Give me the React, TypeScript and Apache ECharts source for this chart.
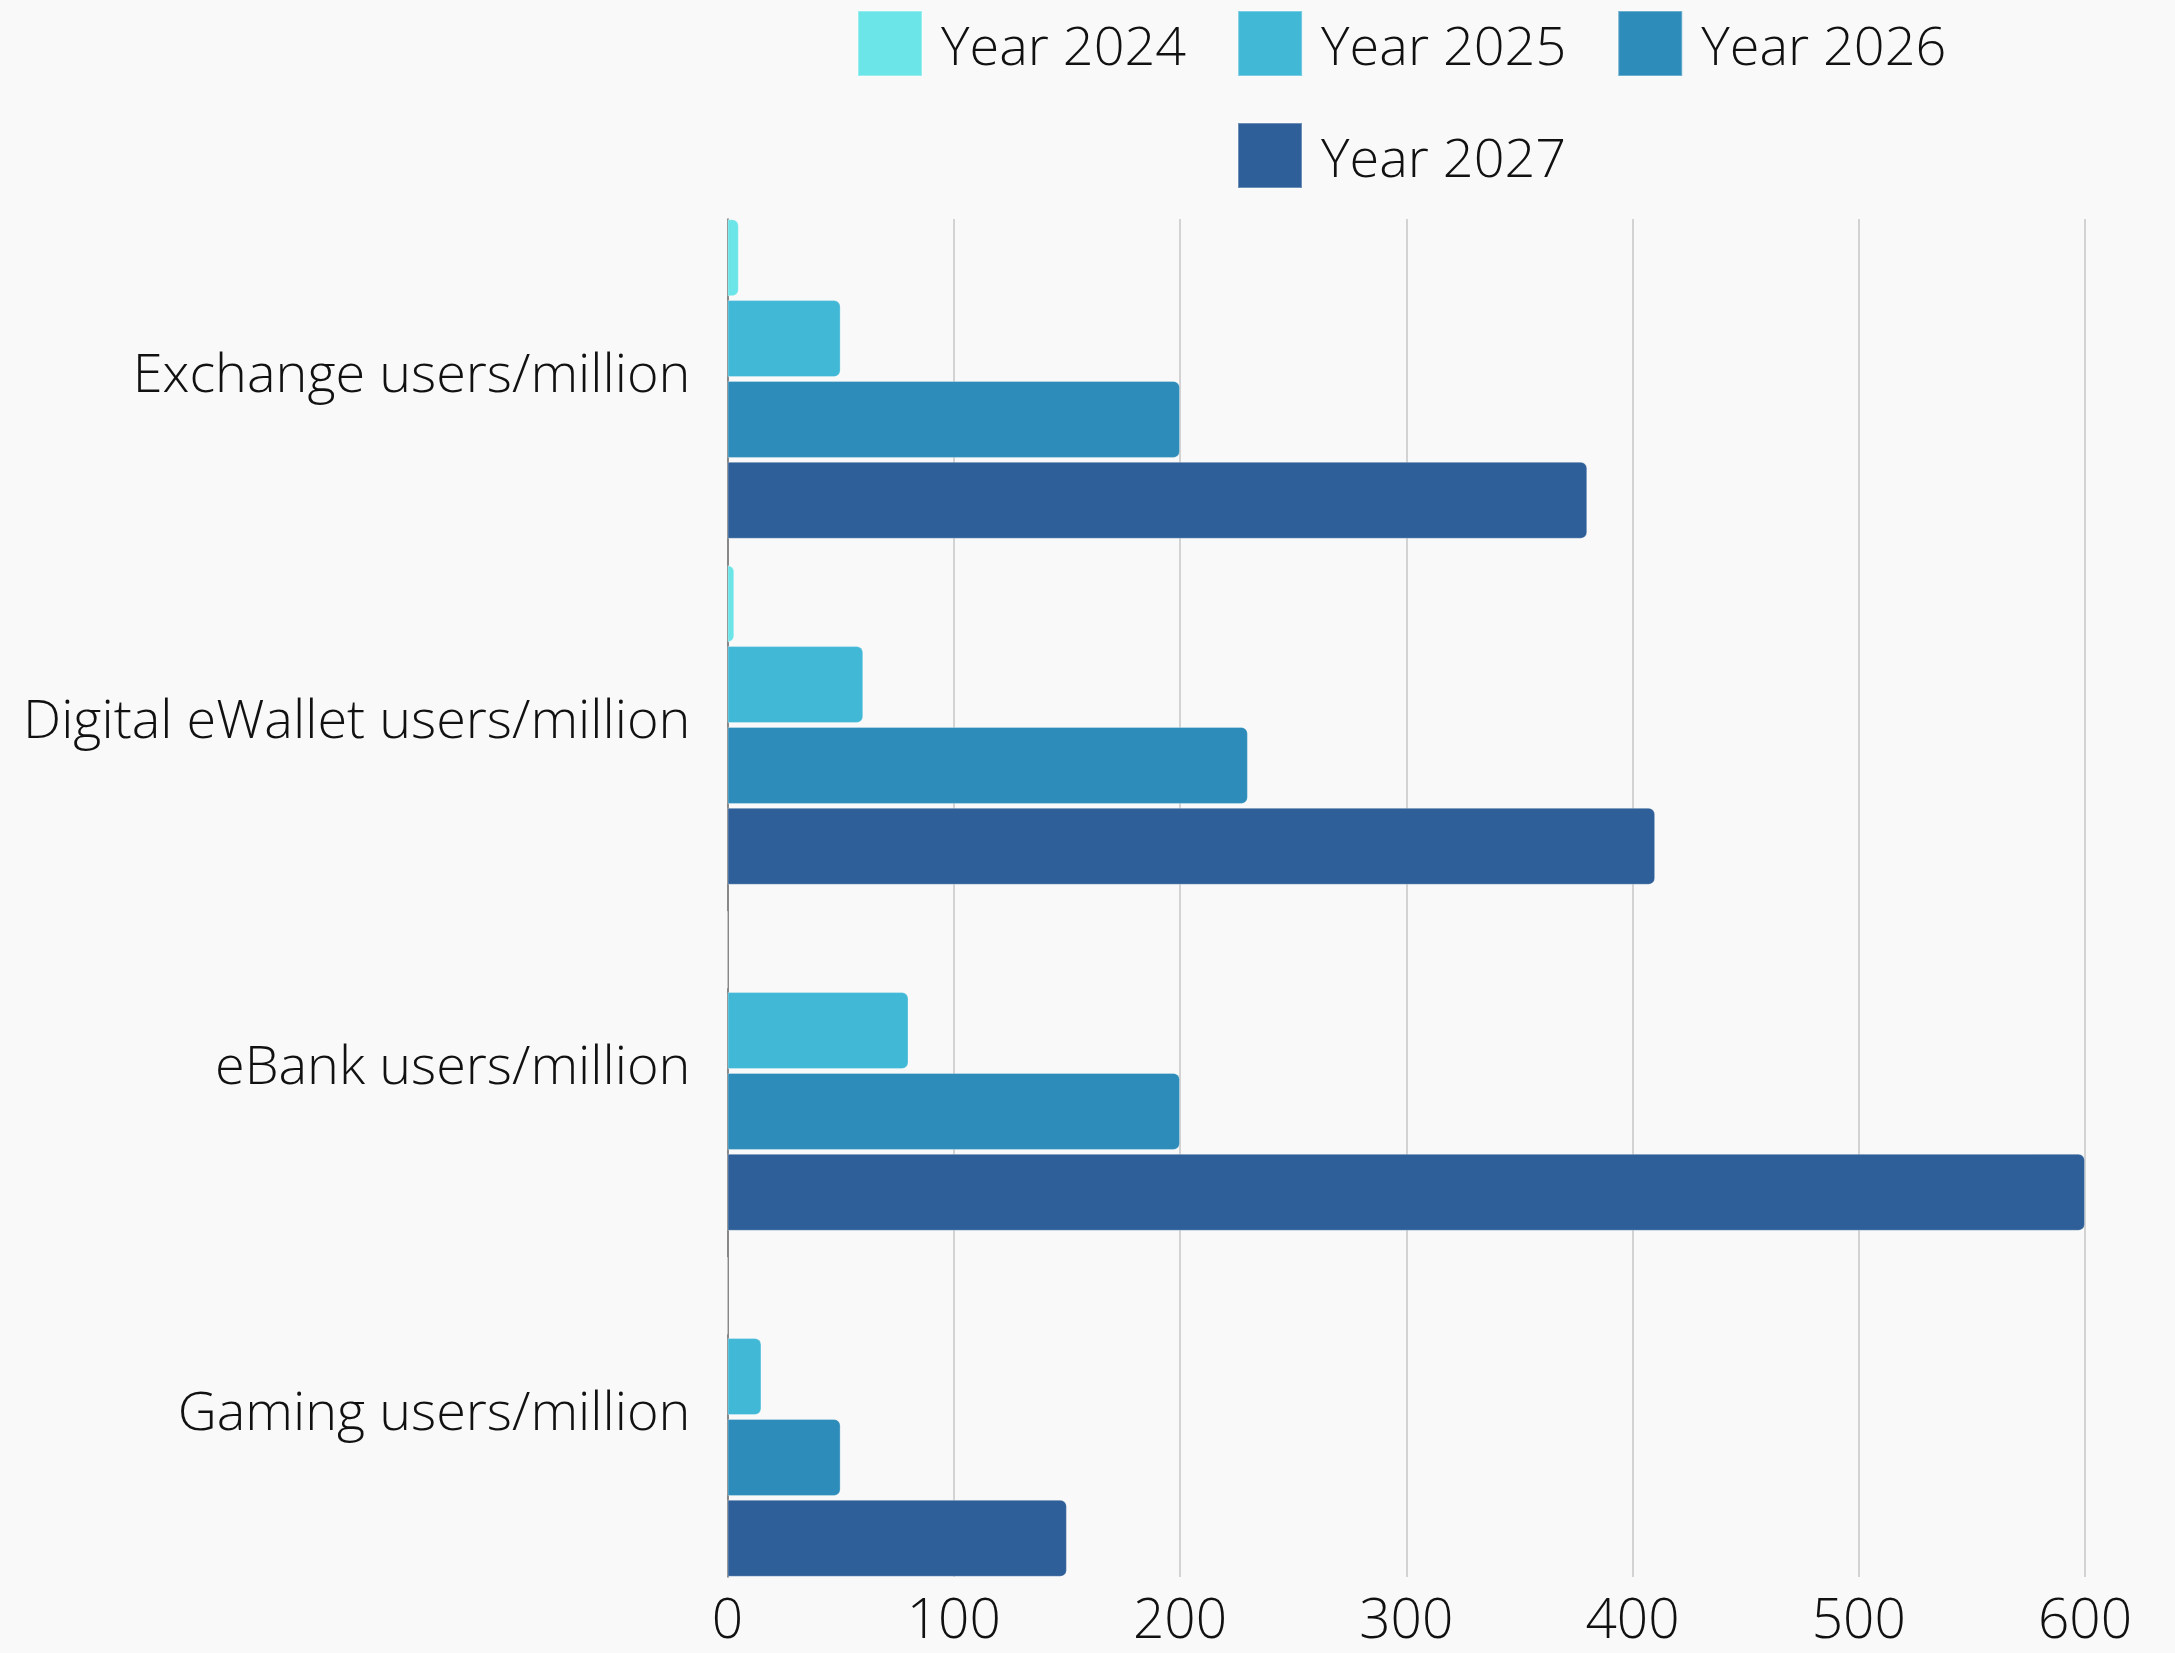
import React, { useEffect, useRef } from "react";
import * as echarts from "echarts";

const categories = [
  "Exchange users/million",
  "Digital eWallet users/million",
  "eBank users/million",
  "Gaming users/million",
];
const seriesNames = ["Year 2024", "Year 2025", "Year 2026", "Year 2027"];
const year2024 = [5, 3, 0, 0];
const year2025 = [50, 60, 80, 15];
const year2026 = [200, 230, 200, 50];
const year2027 = [380, 410, 600, 150];
const xTicks = [0, 100, 200, 300, 400, 500, 600];
const colors = ["#6ce5e8", "#42b8d7", "#2d8cba", "#2e5f98"];

const FONT = "'Open Sans', 'Noto Sans', sans-serif";

export default function App() {
  const ref = useRef<HTMLDivElement>(null);
  useEffect(() => {
    document.body.style.margin = "0";
    document.body.style.background = "#f9f9f9";
    if (!ref.current) return;
    const chart = echarts.init(ref.current, undefined, { renderer: "svg" });
    const values = [year2024, year2025, year2026, year2027];
    const legendText = {
      fontFamily: FONT,
      fontSize: 54,
      fontWeight: 300,
      color: "#111111",
      padding: [0, 0, 6, 14],
    };
    chart.setOption({
      animation: false,
      backgroundColor: "#f9f9f9",
      textStyle: { fontFamily: FONT },
      legend: [
        {
          data: seriesNames.slice(0, 3),
          left: 857,
          top: 10,
          padding: 0,
          itemWidth: 64,
          itemHeight: 65,
          itemGap: 51,
          icon: "rect",
          textStyle: legendText,
          selectedMode: false,
        },
        {
          data: seriesNames.slice(3),
          left: 1237,
          top: 122,
          padding: 0,
          itemWidth: 64,
          itemHeight: 65,
          icon: "rect",
          textStyle: legendText,
          selectedMode: false,
        },
      ],
      grid: [
        { left: 727.5, right: 90, top: 206, bottom: 63 },
        { left: 727.5, right: 90, top: 219, bottom: 76 },
      ],
      xAxis: [
        { type: "value", gridIndex: 0, min: 0, max: 600, interval: 100, show: false },
        {
          type: "value",
          gridIndex: 1,
          min: xTicks[0],
          max: xTicks[xTicks.length - 1],
          interval: 100,
          axisLine: { show: false },
          axisTick: { show: false },
          splitLine: { show: true, lineStyle: { color: "#c6c6c6", width: 1.5 } },
          axisLabel: {
            fontFamily: FONT,
            fontSize: 55,
            fontWeight: 300,
            color: "#111111",
            lineHeight: 48,
            margin: 15,
          },
        },
      ],
      yAxis: [
        {
          type: "category",
          gridIndex: 0,
          data: categories,
          inverse: true,
          axisLine: { show: false },
          axisTick: { show: false },
          splitLine: { show: false },
          axisLabel: {
            fontFamily: FONT,
            fontSize: 54,
            fontWeight: 300,
            color: "#111111",
            margin: 37,
            verticalAlign: "bottom",
            lineHeight: 16,
          },
        },
        {
          type: "category",
          gridIndex: 1,
          data: categories,
          inverse: true,
          axisLine: { show: true, lineStyle: { color: "#6f6f6f", width: 1.5 } },
          axisTick: { show: false },
          axisLabel: { show: false },
          splitLine: { show: false },
        },
      ],
      series: seriesNames.map((name, i) => ({
        name,
        type: "bar",
        xAxisIndex: 0,
        yAxisIndex: 0,
        data: values[i],
        barWidth: 77,
        barGap: "5%",
        itemStyle: {
          color: colors[i],
          borderRadius: [0, 6, 6, 0],
          borderColor: "rgba(255,255,255,0.3)",
          borderWidth: 1,
        },
        z: 5,
      })),
    });
    return () => chart.dispose();
  }, []);
  return <div ref={ref} style={{ width: 2175, height: 1653 }} />;
}
